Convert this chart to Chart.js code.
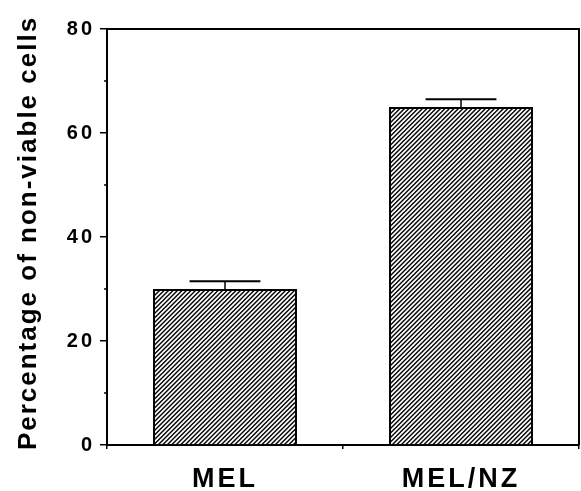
<!DOCTYPE html>
<html><head><meta charset="utf-8">
<script src="https://cdn.jsdelivr.net/npm/chart.js@4"></script>
<style>html,body{margin:0;padding:0;background:#fff}#wrap{width:581px;height:491px}</style>
</head><body><div id="wrap"><canvas id="c" width="581" height="491"></canvas></div>
<script>
const categories = ['MEL', 'MEL/NZ'];
const percentNonViable = [30, 65];
const errorSEM = [1.5, 1.5];
const yMajorTicks = [0, 20, 40, 60, 80];
const yMinorTicks = [10, 30, 50, 70];
const yAxisTitle = 'Percentage of non-viable cells';

const FONT = "'Liberation Sans', Arial, Helvetica, sans-serif";

function makeHatch() {
  const n = 9, p = 4.5;
  const t = document.createElement('canvas');
  t.width = n; t.height = n;
  const g = t.getContext('2d');
  g.fillStyle = '#fff'; g.fillRect(0, 0, n, n);
  g.strokeStyle = '#000'; g.lineWidth = 1.4;
  for (let c = -n; c <= 3 * n; c += p) {
    g.beginPath();
    g.moveTo(c + 2, -2);
    g.lineTo(c - n - 2, n + 2);
    g.stroke();
  }
  return document.getElementById('c').getContext('2d').createPattern(t, 'repeat');
}

const spacingPlugin = {
  id: 'spacing',
  beforeDraw(chart) {
    Object.values(chart.scales).forEach(s => {
      if (s._patched) return;
      s._patched = true;
      const dl = s.drawLabels, dt = s.drawTitle;
      const sp = s.axis === 'y' ? '3px' : '3px';
      s.drawLabels = function (a) { const c = this.ctx; const prev = c.letterSpacing; c.letterSpacing = sp; dl.call(this, a); c.letterSpacing = prev; };
      s.drawTitle = function () { const c = this.ctx; c.save(); c.letterSpacing = '2px'; c.translate(0, -4); dt.call(this); c.restore(); };
    });
  }
};

const decoPlugin = {
  id: 'deco',
  afterDatasetsDraw(chart) {
    const ctx = chart.ctx, y = chart.scales.y;
    const meta = chart.getDatasetMeta(0);
    ctx.save();
    ctx.strokeStyle = '#000';
    meta.data.forEach((bar, i) => {
      const top = y.getPixelForValue(percentNonViable[i] + errorSEM[i]);
      const half = bar.width * 0.246;
      ctx.lineWidth = 1.5;
      ctx.beginPath(); ctx.moveTo(bar.x, bar.y); ctx.lineTo(bar.x, top); ctx.stroke();
      ctx.lineWidth = 2;
      ctx.beginPath(); ctx.moveTo(bar.x - half, top); ctx.lineTo(bar.x + half, top); ctx.stroke();
    });
    ctx.restore();
  },
  afterDraw(chart) {
    const ctx = chart.ctx, a = chart.chartArea, y = chart.scales.y;
    ctx.save();
    ctx.strokeStyle = '#000';
    ctx.lineWidth = 2;
    ctx.beginPath();
    ctx.moveTo(a.left - 1, a.top); ctx.lineTo(a.right, a.top); ctx.lineTo(a.right, a.bottom);
    ctx.stroke();
    ctx.lineWidth = 1.5;
    yMinorTicks.forEach(v => {
      const py = y.getPixelForValue(v);
      ctx.beginPath(); ctx.moveTo(a.left - 3, py); ctx.lineTo(a.left, py); ctx.stroke();
    });
    ctx.restore();
  }
};

new Chart(document.getElementById('c'), {
  type: 'bar',
  data: {
    labels: categories,
    datasets: [{
      data: percentNonViable,
      backgroundColor: makeHatch(),
      borderColor: '#000',
      borderWidth: 2,
      barPercentage: 0.61,
      categoryPercentage: 1
    }]
  },
  options: {
    responsive: false,
    animation: false,
    devicePixelRatio: 1,
    layout: { padding: { top: 29, right: 2, left: 0, bottom: 0 } },
    plugins: { legend: { display: false }, tooltip: { enabled: false } },
    scales: {
      x: {
        type: 'category',
        offset: true,
        afterFit: s => { s.height = 46; },
        border: { display: true, color: '#000', width: 2 },
        grid: { display: true, drawOnChartArea: false, offset: true, tickLength: 4, color: '#000', lineWidth: 1.5 },
        ticks: { color: '#000', padding: 14, font: { family: FONT, size: 27, weight: 'bold' } }
      },
      y: {
        min: 0, max: 80,
        afterFit: s => { s.width = 107; },
        border: { display: true, color: '#000', width: 2 },
        grid: {
          display: true, drawOnChartArea: false, tickLength: 7, lineWidth: 1.5,
          tickColor: c => yMajorTicks.includes(c.tick.value) ? '#000' : 'rgba(0,0,0,0)'
        },
        ticks: {
          stepSize: 10, autoSkip: false, color: '#000', padding: 5,
          font: { family: FONT, size: 20, weight: 'bold' },
          callback: v => yMajorTicks.includes(v) ? String(v) : ''
        },
        title: {
          display: true, text: yAxisTitle, color: '#000',
          font: { family: FONT, size: 26, weight: 'bold' },
          padding: { top: 13, bottom: 0 }
        }
      }
    }
  },
  plugins: [spacingPlugin, decoPlugin]
});
</script></body></html>
